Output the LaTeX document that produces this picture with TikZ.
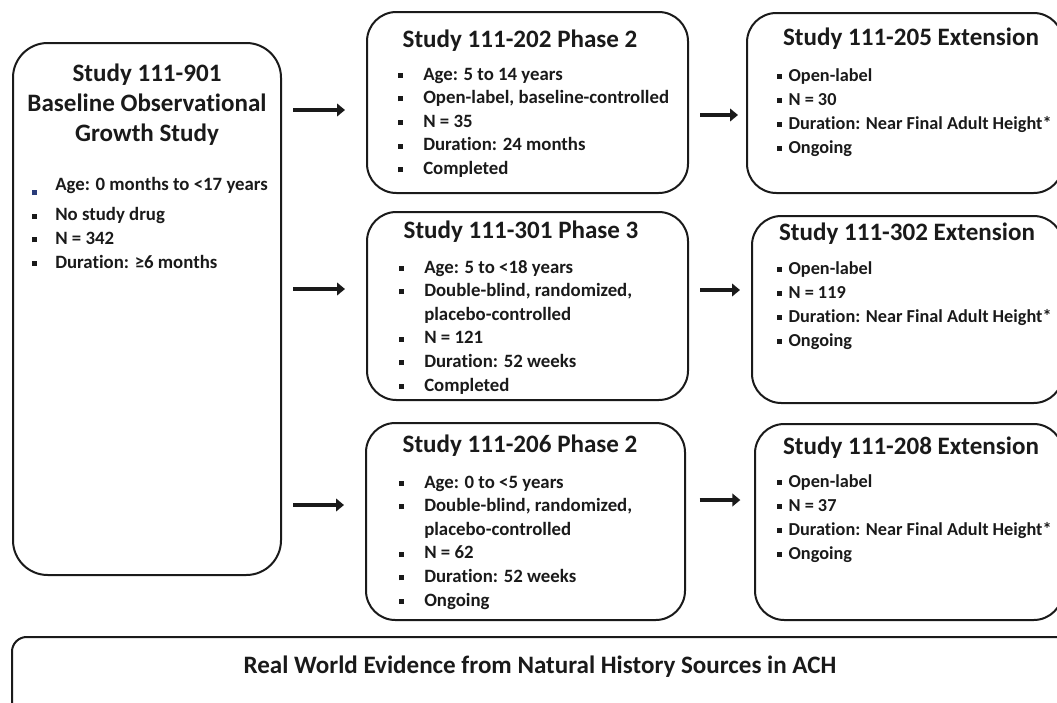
\documentclass[tikz,border=0pt]{standalone}
\usepackage{fontspec}
\setmainfont{Carlito}[Ligatures=NoCommon]
\usetikzlibrary{arrows.meta}
\definecolor{ink}{HTML}{1A1A1A}
\definecolor{bnavy}{HTML}{2A3C7A}
\newcommand\bsq{\rule[1.6pt]{3.8pt}{3.8pt}}
\newcommand\bsm{\rule[1.8pt]{3.2pt}{3.2pt}}
\newcommand\bulm{\bsq}
\newcommand\bulr{\makebox[8.5pt][l]{\bsm}}
\tikzset{
  box/.style={draw=ink, line width=1.5pt, inner sep=0pt, outer sep=0pt, rounded corners=22pt},
  ttl/.style={text=ink, inner sep=0pt, font=\fontsize{18.8}{22.5}\selectfont\bfseries},
  lst/.style={text=ink, inner sep=0pt, anchor=base west, font=\fontsize{14.1}{17.7}\selectfont\bfseries},
  rlst/.style={lst, font=\fontsize{13.7}{18}\selectfont\bfseries},
  arr/.style={draw=ink, line width=3.6pt, -{Triangle[length=6pt,width=9.5pt]}}
}
\begin{document}
\begin{tikzpicture}[x=0.75pt,y=-0.75pt]
\useasboundingbox (0,0) rectangle (1057,703);
\clip (0,0) rectangle (1057,703);
% boxes
\node[box, rounded corners=26pt, minimum width=201pt, minimum height=399pt] (L) at (147,309) {};
\node[box, minimum width=240.75pt, minimum height=135.75pt] (M1) at (527.5,102.5) {};
\node[box, minimum width=237pt, minimum height=135pt] (R1) at (905,103) {};
\node[box, minimum width=240.75pt, minimum height=141pt] (M2) at (527.5,306) {};
\node[box, minimum width=233.25pt, minimum height=140.25pt] (R2) at (907.5,309.5) {};
\node[box, minimum width=239.25pt, minimum height=147.75pt] (M3) at (525.5,521.5) {};
\node[box, minimum width=231pt, minimum height=147pt] (R3) at (909,522) {};
\node[box, rounded corners=11pt, minimum width=793.5pt, minimum height=69.75pt] (B) at (541,683.5) {};
% left box text
\node[ttl, align=center] (Lt) at (147,105) {Study 111-901\\Baseline Observational\\Growth Study};
\node[lst] (Ll) at (32,190) {\begin{tabular}[t]{@{}p{17.25pt}@{}l@{}}
{\color{bnavy}\bsq} & Age: 0 months to <17 years\\
\bsq & No study drug\\
\bsq & N = 342\\
\bsq & Duration: ≥6 months
\end{tabular}};
% middle column
\node[ttl, anchor=base] (M1t) at (520,47) {Study 111-202 Phase 2};
\node[lst] (M1l) at (398,80) {\begin{tabular}[t]{@{}p{18.75pt}@{}l@{}}
\bulm & Age: 5 to 14 years\\
\bulm & Open-label, baseline-controlled\\
\bulm & N = 35\\
\bulm & Duration: 24 months\\
\bulm & Completed
\end{tabular}};
\node[ttl, anchor=base] (M2t) at (521,238) {Study 111-301 Phase 3};
\node[lst] (M2l) at (399,273) {\begin{tabular}[t]{@{}p{18.75pt}@{}l@{}}
\bulm & Age: 5 to <18 years\\
\bulm & Double-blind, randomized,\\
 & placebo-controlled\\
\bulm & N = 121\\
\bulm & Duration: 52 weeks\\
\bulm & Completed
\end{tabular}};
\node[ttl, anchor=base] (M3t) at (520,452) {Study 111-206 Phase 2};
\node[lst] (M3l) at (399,488) {\begin{tabular}[t]{@{}p{18.75pt}@{}l@{}}
\bulm & Age: 0 to <5 years\\
\bulm & Double-blind, randomized,\\
 & placebo-controlled\\
\bulm & N = 62\\
\bulm & Duration: 52 weeks\\
\bulm & Ongoing
\end{tabular}};
% right column
\node[ttl, anchor=base] (R1t) at (911,45) {Study 111-205 Extension};
\node[rlst] (R1l) at (777,81) {\begin{tabular}[t]{@{}l@{}}
\bulr Open-label\\
\bulr N = 30\\
\bulr Duration: Near Final Adult Height*\\
\bulr Ongoing
\end{tabular}};
\node[ttl, anchor=base] (R2t) at (907,240) {Study 111-302 Extension};
\node[rlst] (R2l) at (777,274) {\begin{tabular}[t]{@{}l@{}}
\bulr Open-label\\
\bulr N = 119\\
\bulr Duration: Near Final Adult Height*\\
\bulr Ongoing
\end{tabular}};
\node[ttl, anchor=base] (R3t) at (911,454) {Study 111-208 Extension};
\node[rlst] (R3l) at (777,487) {\begin{tabular}[t]{@{}l@{}}
\bulr Open-label\\
\bulr N = 37\\
\bulr Duration: Near Final Adult Height*\\
\bulr Ongoing
\end{tabular}};
% bottom
\node[ttl] (Bt) at (540,667) {Real World Evidence from Natural History Sources in ACH};
% arrows
\draw[arr, shorten <=9pt, shorten >=16.5pt] (L.east |- 0,110) -- (M1.west |- 0,110);
\draw[arr, shorten <=9pt, shorten >=16.5pt] (L.east |- 0,289) -- (M2.west |- 0,289);
\draw[arr, shorten <=9pt, shorten >=16.5pt] (L.east |- 0,505) -- (M3.west |- 0,505);
\draw[arr, shorten <=9pt, shorten >=6.75pt] (M1.east |- 0,115) -- (R1.west |- 0,115);
\draw[arr, shorten <=9pt, shorten >=9pt] (M2.east |- 0,290) -- (R2.west |- 0,290);
\draw[arr, shorten <=11pt, shorten >=11pt] (M3.east |- 0,500) -- (R3.west |- 0,500);
\end{tikzpicture}
\end{document}
